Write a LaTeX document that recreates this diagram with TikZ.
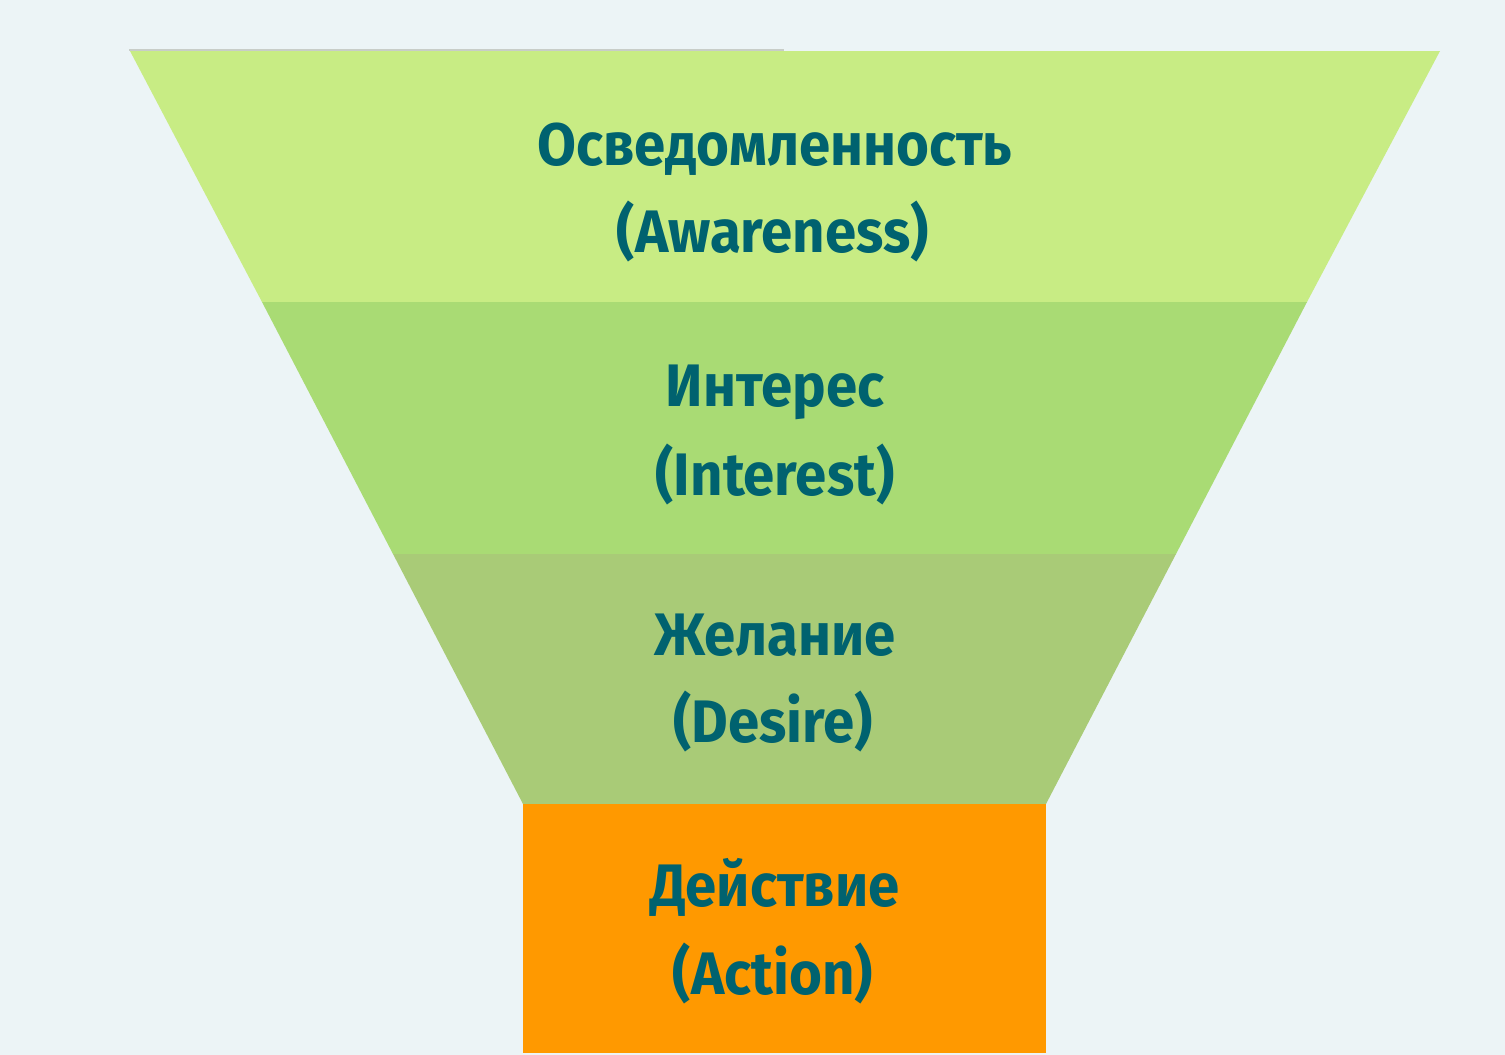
\documentclass[tikz,border=0pt]{standalone}
\usepackage{fontspec}
\setmainfont{Fira Sans}[UprightFont=* Bold, FakeStretch=0.94]
\definecolor{bgc}{HTML}{ECF4F6}
\definecolor{bandA}{HTML}{C8EC84}
\definecolor{bandB}{HTML}{A9DB74}
\definecolor{bandC}{HTML}{A9CB77}
\definecolor{bandD}{HTML}{FF9900}
\definecolor{txt}{HTML}{00626F}
\definecolor{edgeg}{HTML}{C8CDC8}
\tikzset{
  lbl/.style={text=txt, font=\fontsize{60}{60}\selectfont, anchor=base, inner sep=0pt},
}
\begin{document}
\begin{tikzpicture}[x=1pt,y=-1pt]
\fill[bgc] (0,0) rectangle (1505,1055);
\useasboundingbox (0,0) rectangle (1505,1055);
% bands
\fill[bandA] (130,51) -- (1440,51) -- (1307,302) -- (262,302) -- cycle;
\fill[bandB] (262,302) -- (1307,302) -- (1176,554) -- (393,554) -- cycle;
\fill[bandC] (393,554) -- (1176,554) -- (1046,804) -- (523,804) -- cycle;
\fill[bandD] (523,804) rectangle (1046,1053);
\fill[edgeg] (129,49) rectangle (784,51);
% labels
\node[lbl] (a1) at (775,165) {Осведомленность};
\node[lbl] (a2) at (773,252) {(Awareness)};
\node[lbl] (b1) at (775,406) {Интерес};
\node[lbl] (b2) at (775,495) {(Interest)};
\node[lbl] (c1) at (775,655) {Желание};
\node[lbl] (c2) at (773,742) {(Desire)};
\node[lbl] (d1) at (775,906) {Действие};
\node[lbl] (d2) at (773,994) {(Action)};
\end{tikzpicture}
\end{document}
